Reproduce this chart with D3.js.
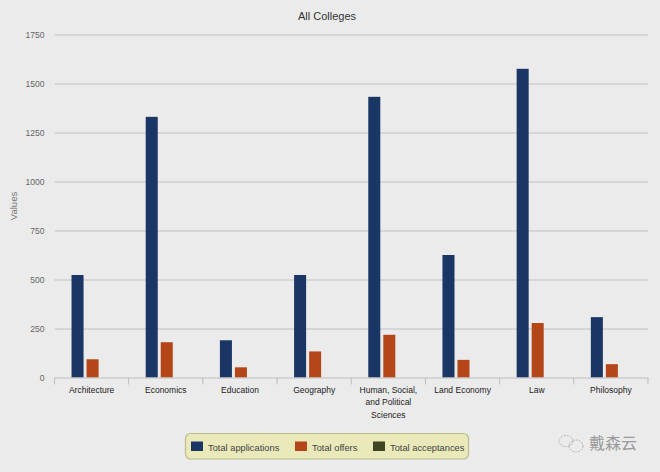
<!DOCTYPE html>
<html>
<head>
<meta charset="utf-8">
<script src="https://cdn.jsdelivr.net/npm/d3@7"></script>
<style>
html, body { margin: 0; padding: 0; background: #ebebeb; }
svg { display: block; font-family: "Liberation Sans", Arial, sans-serif; }
</style>
</head>
<body>
<div id="chart"></div>
<script>
const categories = ["Architecture", "Economics", "Education", "Geography", "Human, Social, and Political Sciences", "Land Economy", "Law", "Philosophy"];
const seriesNames = ["Total applications", "Total offers", "Total acceptances"];
const applications = [523, 1330, 190, 523, 1432, 625, 1575, 308];
const offers = [93, 180, 52, 133, 218, 90, 278, 68];
const acceptances = [0, 0, 0, 0, 0, 0, 0, 0];
const yTicks = [0, 250, 500, 750, 1000, 1250, 1500, 1750];
const chartTitle = "All Colleges";
const yTitle = "Values";
const watermark = "戴森云";

const seriesValues = [applications, offers, acceptances];
const colors = ["#1a3664", "#b5461a", "#3f4423"];

const width = 660;
const height = 472;
const marginTop = 34.5;
const marginRight = 12;
const marginBottom = 94.5;
const marginLeft = 54.5;
const fontFamily = "'Liberation Sans', Arial, sans-serif";

const svg = d3.select("#chart").append("svg")
    .attr("width", width)
    .attr("height", height)
    .attr("viewBox", [0, 0, width, height]);

const x = d3.scaleBand()
    .domain(categories)
    .range([marginLeft, width - marginRight]);
const x1 = d3.scaleBand()
    .domain(seriesNames)
    .range([0, x.bandwidth()])
    .paddingInner(0.2)
    .paddingOuter(1.07)
    .align(0.53);
const y = d3.scaleLinear()
    .domain([0, 1750])
    .range([height - marginBottom, marginTop]);

// gridlines + y labels
svg.append("g")
    .attr("transform", `translate(${marginLeft},0)`)
    .call(d3.axisLeft(y).tickValues(yTicks).tickFormat(d3.format("d")).tickSize(-(width - marginLeft - marginRight)).tickPadding(10))
    .call(g => g.select(".domain").remove())
    .call(g => g.selectAll(".tick line").attr("stroke", "#c2c2c2").attr("stroke-width", 1.2))
    .call(g => g.selectAll(".tick text").attr("fill", "#666").style("font-size", "8.6px").style("font-family", fontFamily))
    .call(g => g.selectAll(".tick").filter(d => d === 0).select("line").remove());

// bars
const groups = svg.append("g")
    .selectAll("g")
    .data(categories)
    .join("g")
    .attr("transform", d => `translate(${x(d)},0)`);
groups.selectAll("rect")
    .data((d, i) => seriesNames.map((name, s) => ({ name, s, value: seriesValues[s][i] })))
    .join("rect")
    .attr("x", d => x1(d.name))
    .attr("y", d => y(d.value))
    .attr("width", x1.bandwidth())
    .attr("height", d => y(0) - y(d.value))
    .attr("fill", d => colors[d.s]);

// x axis, ticks sit on the band edges
const xAxisG = svg.append("g")
    .attr("transform", `translate(0,${y(0)})`)
    .call(d3.axisBottom(x).tickSize(0).tickPadding(9));
xAxisG.select(".domain").attr("stroke", "#bdbdbd").attr("stroke-width", 1);
xAxisG.selectAll(".tick text")
    .attr("fill", "#222")
    .style("font-size", "8.5px")
    .style("font-family", fontFamily)
    .call(wrap, x.bandwidth() - 12);
xAxisG.selectAll(".edge")
    .data(categories.map(d => x(d)).concat(x.range()[1]))
    .join("line")
    .attr("class", "edge")
    .attr("x1", d => d).attr("x2", d => d)
    .attr("y1", 0).attr("y2", 7)
    .attr("stroke", "#bdbdbd");

function wrap(text, w) {
    text.each(function () {
        const t = d3.select(this);
        const words = t.text().split(" ");
        const yy = t.attr("y");
        t.text(null);
        let line = [];
        let n = 0;
        let span = t.append("tspan").attr("x", 0).attr("y", yy).attr("dy", "0.71em");
        words.forEach(word => {
            line.push(word);
            span.text(line.join(" "));
            if (span.node().getComputedTextLength() > w && line.length > 1) {
                line.pop();
                span.text(line.join(" "));
                line = [word];
                n++;
                span = t.append("tspan").attr("x", 0).attr("y", yy)
                    .attr("dy", (0.71 + n * 1.47) + "em").text(word);
            }
        });
    });
}

// titles
svg.append("text")
    .attr("x", 327)
    .attr("y", 20)
    .attr("text-anchor", "middle")
    .attr("fill", "#333")
    .style("font-size", "11px")
    .text(chartTitle);
svg.append("text")
    .attr("transform", `translate(17,${(y(0) + y(1750)) / 2}) rotate(-90)`)
    .attr("text-anchor", "middle")
    .attr("fill", "#777")
    .style("font-size", "9.5px")
    .text(yTitle);

// legend
const legend = svg.append("g");
legend.append("rect")
    .attr("x", 185.5).attr("y", 433.5)
    .attr("width", 283).attr("height", 25.5)
    .attr("rx", 5)
    .attr("fill", "#e9e9b9")
    .attr("stroke", "#bcbc8c")
    .attr("stroke-width", 1.2);
const legendX = [191, 295, 373];
const legendItems = legend.selectAll("g")
    .data(seriesNames)
    .join("g")
    .attr("transform", (d, i) => `translate(${legendX[i]},441.5)`);
legendItems.append("rect")
    .attr("width", 12).attr("height", 9.5)
    .attr("fill", (d, i) => colors[i]);
legendItems.append("text")
    .attr("x", 17).attr("y", 9)
    .attr("fill", "#444")
    .style("font-size", "9.3px")
    .text(d => d);

// watermark
const mark = svg.append("g").attr("fill", "none").attr("stroke", "#a8a8a8").attr("stroke-width", 0.8);
mark.append("ellipse").attr("cx", 566).attr("cy", 441).attr("rx", 7).attr("ry", 5.5).attr("stroke-dasharray", "2 1");
mark.append("ellipse").attr("cx", 576).attr("cy", 446).attr("rx", 7).attr("ry", 6).attr("stroke-dasharray", "2 1");
svg.append("text")
    .attr("x", 589)
    .attr("y", 449)
    .attr("fill", "#9a9a9a")
    .style("font-family", "'Noto Sans CJK SC'")
    .style("font-size", "16px")
    .text(watermark);
</script>
</body>
</html>
